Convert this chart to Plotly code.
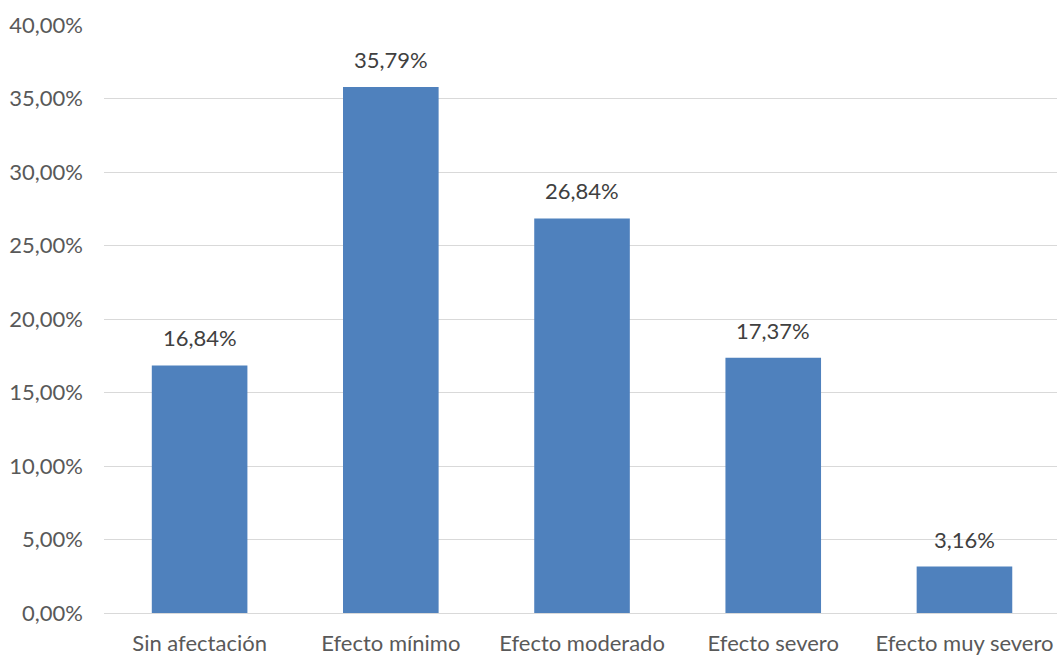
import plotly.graph_objects as go

categories = ["Sin afectación", "Efecto mínimo", "Efecto moderado", "Efecto severo", "Efecto muy severo"]
values = [0.1684, 0.3579, 0.2684, 0.1737, 0.0316]
y_ticks = [0, 0.05, 0.10, 0.15, 0.20, 0.25, 0.30, 0.35, 0.40]

FONT = "Lato"
fig = go.Figure()
fig.add_trace(go.Bar(
    x=list(range(len(categories))), y=values,
    marker=dict(color="#4f81bd", line=dict(width=0)),
    width=0.5,
    hoverinfo="skip",
))
for i, v in enumerate(values):
    fig.add_annotation(x=i, y=v, text=f"{v*100:.2f}%".replace(".", ","),
                       showarrow=False, yanchor="bottom", yshift=12,
                       font=dict(family=FONT, size=22, color="#404040"))

fig.update_layout(
    width=1057, height=657,
    margin=dict(l=104, r=0, t=25, b=44, pad=0),
    paper_bgcolor="white", plot_bgcolor="white",
    separators=",.",
    showlegend=False,
    font=dict(family=FONT, size=22, color="#595959"),
    xaxis=dict(range=[-0.5, 4.484], tickvals=list(range(len(categories))), ticktext=categories,
               showgrid=False, zeroline=False, showline=False, ticks="",
               ticklabelstandoff=15, fixedrange=True),
    yaxis=dict(range=[0, 0.40], tickvals=y_ticks, tickformat=".2%",
               showgrid=True, gridcolor="#d9d9d9", gridwidth=1.3,
               zeroline=True, zerolinecolor="#d9d9d9", zerolinewidth=1.3,
               showline=False, ticks="", ticklabelstandoff=20, fixedrange=True),
)
fig.write_html("out.html", config={"displayModeBar": False})
